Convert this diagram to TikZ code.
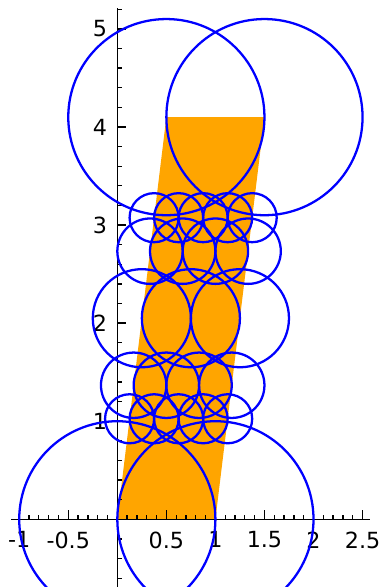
\documentclass[tikz,border=0pt]{standalone}
\usepackage{fontspec}
\setmainfont{DejaVu Sans}
\definecolor{plotorange}{HTML}{FFA500}
\definecolor{plotblue}{HTML}{0000FF}
\begin{document}
\begin{tikzpicture}[x=1cm,y=1cm,
  circ/.style={draw=plotblue, line width=0.66pt},
  axisline/.style={line width=0.38pt, draw=black},
  ticklab/.style={font=\fontsize{6.45}{7}\selectfont, inner sep=0pt}]
\useasboundingbox (-1.196,-0.690) rectangle (2.698,5.294);
\clip (-1.196,-0.690) rectangle (2.698,5.294);
% filled region
\fill[plotorange] (0,0) -- (1,0) -- (1.5,4.1) -- (0.5,4.1) -- cycle;
% axes
\draw[axisline] (-1.08,0) -- (2.575,0);
\draw[axisline] (0,-0.8) -- (0,5.21);
\foreach \i in {-10,...,25} \draw[axisline] (\i/10,0) -- (\i/10,0.044);
\foreach \i in {-2,...,5} \draw[axisline] (\i/2,0) -- (\i/2,0.093);
\foreach \i in {-4,...,26} \draw[axisline] (0,\i/5) -- (0.044,\i/5);
\foreach \i in {0,...,5} \draw[axisline] (0,\i) -- (0.093,\i);
% tick labels
\foreach \v/\s in {-1/-1,-0.5/-0.5,0.5/0.5,1/1,1.5/1.5,2/2,2.5/2.5}
  \node[ticklab, anchor=north] (xl\s) at (\v,-0.119) {\s};
\foreach \v in {1,...,5}
  \node[ticklab, anchor=east] (yl\v) at (-0.097,\v) {\v};
% circles
\foreach \t/\r/\n in {0/1/1, 0.25/0.25/4, 0.3333333/0.3333333/3, 0.5/0.5/2, 0.6666667/0.3333333/3, 0.75/0.25/4, 1/1/1}{
  \foreach \k in {0,...,\n}
    \draw[circ] ({\t/2+\k*\r},{4.1*\t}) circle[radius=\r];
}
\end{tikzpicture}
\end{document}
